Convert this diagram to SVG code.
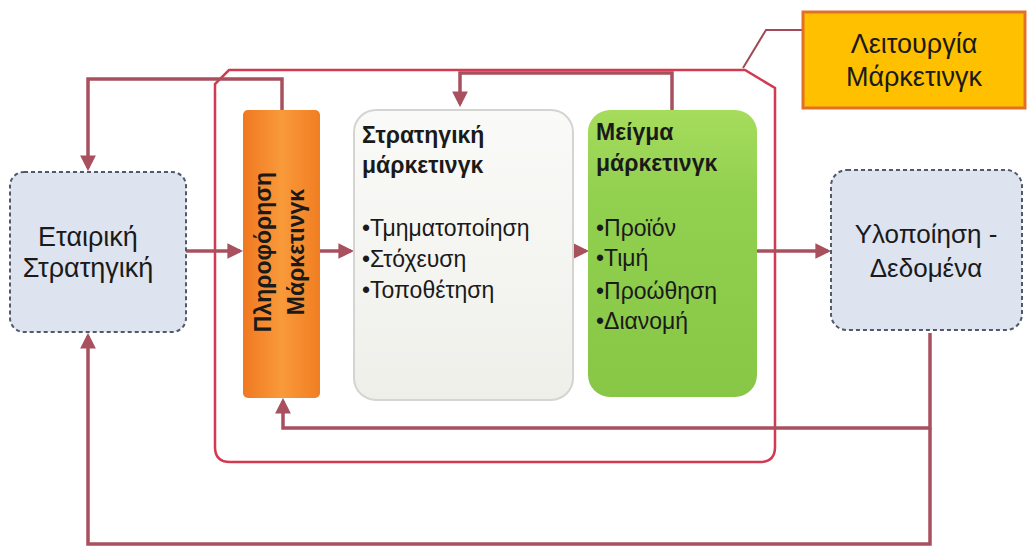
<svg xmlns="http://www.w3.org/2000/svg" width="1028" height="551" viewBox="0 0 1028 551">
<style>
  .conn { fill: none; stroke: #a8505e; stroke-width: 3.5; }
  .txt { font-family: "Liberation Sans", "Noto Sans", sans-serif; fill: #1a1a1a; }
  .node-out { fill: #dde3ef; stroke: #505a6a; stroke-width: 2; stroke-dasharray: 4 3; }
</style>
<defs>
  <marker id="arr" viewBox="0 0 10 10" refX="8" refY="5" markerWidth="4.5" markerHeight="4.5" orient="auto">
    <path d="M0,0 L10,5 L0,10 z" fill="#a8505e"/>
  </marker>
  <linearGradient id="orangeG" x1="0" y1="0" x2="1" y2="0">
    <stop offset="0" stop-color="#f07820"/>
    <stop offset="0.5" stop-color="#f99a3a"/>
    <stop offset="1" stop-color="#f07e22"/>
  </linearGradient>
  <linearGradient id="greenG" x1="0" y1="0" x2="0" y2="1">
    <stop offset="0" stop-color="#a6dc5c"/>
    <stop offset="0.3" stop-color="#92d050"/>
    <stop offset="1" stop-color="#88c646"/>
  </linearGradient>
  <linearGradient id="grayG" x1="0" y1="0" x2="0" y2="1">
    <stop offset="0" stop-color="#fafaf8"/>
    <stop offset="1" stop-color="#efefea"/>
  </linearGradient>
</defs>

<!-- container -->
<g id="container">
  <path d="M229,70 L745,70 L775,88 L775,447 Q775,462 760,462 L230,462 Q215,462 215,447 L215,84 Z" fill="none" stroke="#d23a52" stroke-width="2.5"/>
</g>

<g id="connectors">
  <line class="conn" x1="186" y1="251" x2="240" y2="251" marker-end="url(#arr)"/>
  <line class="conn" x1="320" y1="251" x2="351" y2="251" marker-end="url(#arr)"/>
  <line class="conn" x1="573" y1="251" x2="586" y2="251" marker-end="url(#arr)"/>
  <line class="conn" x1="757" y1="251" x2="828" y2="251" marker-end="url(#arr)"/>
  <path class="conn" d="M282,110 L282,79 L88,79 L88,168" marker-end="url(#arr)"/>
  <path class="conn" d="M672,111 L672,73 L460,73 L460,104" marker-end="url(#arr)"/>
  <path class="conn" d="M930,333 L930,428 L283,428 L283,401" marker-end="url(#arr)"/>
  <path class="conn" d="M930,428 L930,544 L88,544 L88,336" marker-end="url(#arr)"/>
  <path d="M802,30 L766,30 L743,68" fill="none" stroke="#a04a58" stroke-width="2"/>
</g>

<g id="n-company">
  <rect class="node-out" x="10" y="172" width="176" height="160" rx="14"/>
  <text class="txt" x="88" y="246" font-size="27" text-anchor="middle">Εταιρική</text>
  <text class="txt" x="88" y="277" font-size="27" text-anchor="middle">Στρατηγική</text>
</g>

<g id="n-info">
  <rect x="243" y="110" width="77" height="288" rx="5" fill="url(#orangeG)"/>
  <g transform="translate(281,252) rotate(-90)">
    <text class="txt" x="0" y="-10" font-size="23" font-weight="bold" text-anchor="middle" fill="#2e1406">Πληροφόρηση</text>
    <text class="txt" x="0" y="23" font-size="23" font-weight="bold" text-anchor="middle" fill="#2e1406">Μάρκετινγκ</text>
  </g>
</g>

<g id="n-strategy">
  <rect x="354" y="110" width="219" height="290" rx="22" fill="url(#grayG)" stroke="#d4d4d0" stroke-width="2"/>
  <text class="txt" x="362" y="143" font-size="23" font-weight="bold">Στρατηγική</text>
  <text class="txt" x="362" y="173" font-size="23" font-weight="bold">μάρκετινγκ</text>
  <text class="txt" x="362" y="236" font-size="23" fill="#333">•Τμηματοποίηση</text>
  <text class="txt" x="362" y="267" font-size="23" fill="#333">•Στόχευση</text>
  <text class="txt" x="362" y="298" font-size="23" fill="#333">•Τοποθέτηση</text>
</g>

<g id="n-mix">
  <rect x="588" y="110" width="169" height="287" rx="22" fill="url(#greenG)"/>
  <text class="txt" x="596" y="140" font-size="23" font-weight="bold" fill="#1c2e0a">Μείγμα</text>
  <text class="txt" x="596" y="171" font-size="23" font-weight="bold" fill="#1c2e0a">μάρκετινγκ</text>
  <text class="txt" x="596" y="236" font-size="23" fill="#1c2e0a">•Προϊόν</text>
  <text class="txt" x="596" y="266" font-size="23" fill="#1c2e0a">•Τιμή</text>
  <text class="txt" x="596" y="299" font-size="23" fill="#1c2e0a">•Προώθηση</text>
  <text class="txt" x="596" y="329" font-size="23" fill="#1c2e0a">•Διανομή</text>
</g>

<g id="n-impl">
  <rect class="node-out" x="831" y="170" width="191" height="160" rx="16"/>
  <text class="txt" x="926" y="243" font-size="26" text-anchor="middle">Υλοποίηση -</text>
  <text class="txt" x="926" y="277" font-size="26" text-anchor="middle">Δεδομένα</text>
</g>

<g id="n-function">
  <rect x="803" y="12" width="222" height="96" fill="#ffc000" stroke="#e2702a" stroke-width="3"/>
  <text class="txt" x="914" y="53" font-size="27" text-anchor="middle" fill="#3a2a00">Λειτουργία</text>
  <text class="txt" x="914" y="86" font-size="27" text-anchor="middle" fill="#3a2a00">Μάρκετινγκ</text>
</g>
</svg>
